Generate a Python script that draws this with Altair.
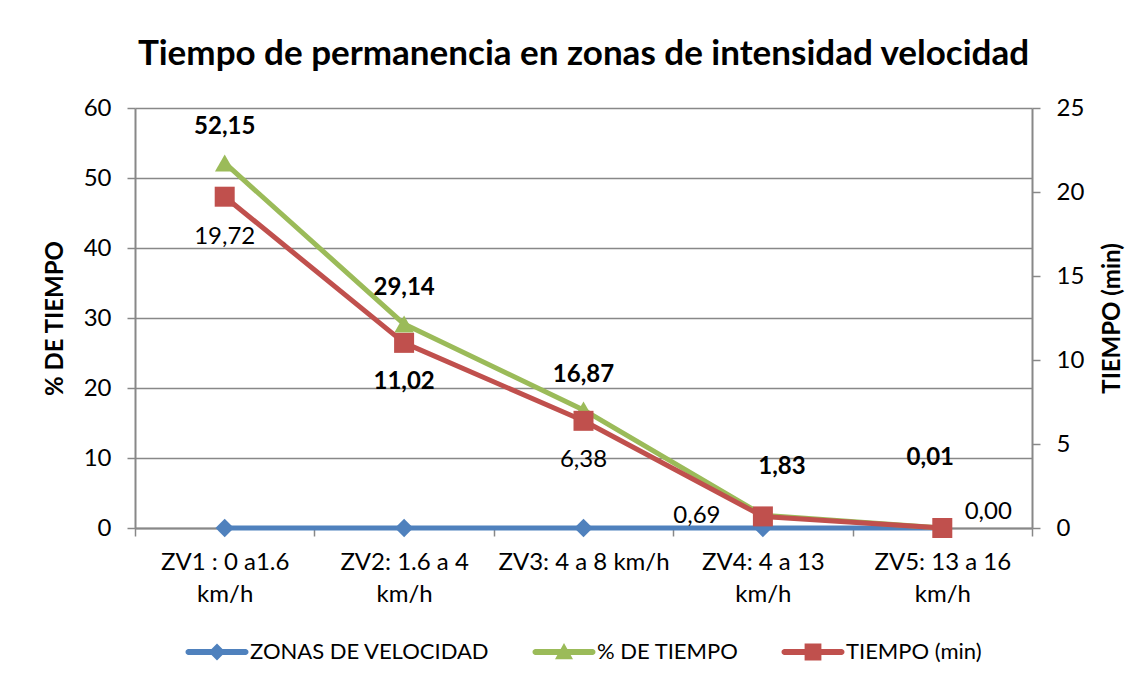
import altair as alt
import pandas as pd

# ---------------- data ----------------
categories = [
    "ZV1 : 0 a1.6\nkm/h",
    "ZV2: 1.6  a 4\nkm/h",
    "ZV3:  4 a 8 km/h",
    "ZV4: 4 a 13\nkm/h",
    "ZV5: 13 a 16\nkm/h",
]
series = ["ZONAS DE VELOCIDAD", "% DE TIEMPO", "TIEMPO (min)"]
zonas_velocidad = [0, 0, 0, 0, 0]
pct_tiempo = [52.15, 29.14, 16.87, 1.83, 0.01]
tiempo_min = [19.72, 11.02, 6.38, 0.69, 0.00]
left_ticks = [0, 10, 20, 30, 40, 50, 60]
right_ticks = [0, 5, 10, 15, 20, 25]
title_text = "Tiempo de permanencia en zonas de intensidad velocidad"

# ---------------- styles ----------------
colors = ["#4F81BD", "#9BBB59", "#C0504D"]
FONT = "Lato"
GRAY = "#888888"
pct_label_style = [(0, -36, True), (0, -36, True), (0, -35, True), (19, -48, True), (-12, -70, True)]
tmin_label_style = [(0, 40, False), (0, 39, True), (0, 39, False), (-66, 0, False), (46, -16, False)]
LINE_PATH = "M-0.95,-0.1H0.95A0.1,0.1 0 0 1 0.95,0.1H-0.95A0.1,0.1 0 0 1 -0.95,-0.1Z"
legend_paths = [
    LINE_PATH + " M0,-0.28L0.28,0L0,0.28L-0.28,0Z",
    LINE_PATH + " M0,-0.3L0.3,0.24L-0.3,0.24Z",
    LINE_PATH + " M-0.28,-0.28H0.28V0.28H-0.28Z",
]

rows = []
for s, vals in zip(series, [zonas_velocidad, pct_tiempo, tiempo_min]):
    for i, (c, v) in enumerate(zip(categories, vals)):
        rows.append({"cat": c, "serie": s, "v": v, "idx": i,
                     "lab": f"{v:.2f}".replace(".", ",")})
df = pd.DataFrame(rows)

base = alt.Chart(df)

x_enc = alt.X(
    "cat:N", sort=categories, title=None,
    scale=alt.Scale(type="band", paddingInner=0, paddingOuter=0),
    axis=alt.Axis(
        labelExpr="split(datum.label, '\\n')", labelAngle=0, tickBand="extent",
        tickSize=8, tickColor=GRAY, tickWidth=1.5, domainColor=GRAY, domainWidth=2,
        labelPadding=14, labelLineHeight=32, labelFontSize=24, labelFont=FONT,
        labelColor="black", grid=False,
    ),
)
left_scale = alt.Scale(domain=[0, 60], nice=False, zero=True)
left_axis = alt.Axis(
    values=left_ticks, title="% DE TIEMPO", orient="left", grid=True,
    gridColor=GRAY, gridWidth=1.5, tickSize=8, tickColor=GRAY, tickWidth=1.5,
    domainColor=GRAY, domainWidth=2, labelFontSize=24, labelFont=FONT,
    labelColor="black", labelPadding=16, titleFont=FONT, titleFontSize=24,
    titleFontWeight="bold", titleColor="black", titlePadding=16,
)
y_left = alt.Y("v:Q", scale=left_scale, axis=left_axis)
y_right = alt.Y(
    "v:Q", scale=alt.Scale(domain=[0, 25], nice=False, zero=True),
    axis=alt.Axis(
        values=right_ticks, title="TIEMPO (min)", orient="right", grid=False,
        tickSize=8, tickColor=GRAY, tickWidth=1.5, domainColor=GRAY, domainWidth=2,
        labelFontSize=24, labelFont=FONT, labelColor="black", labelPadding=16,
        titleFont=FONT, titleFontSize=24, titleFontWeight="bold", titleColor="black",
        titlePadding=17, titleAngle=270, titleBaseline="top",
    ),
)
color_scale = alt.Scale(domain=series, range=colors)


def line_layer(k, y_enc):
    return base.transform_filter(alt.datum.serie == series[k]).mark_line(
        strokeWidth=5, strokeJoin="round", color=colors[k]).encode(x=x_enc, y=y_enc)


def point_layer(k, shape, size, y_enc):
    return base.transform_filter(alt.datum.serie == series[k]).mark_point(
        filled=True, opacity=1, shape=shape, size=size, color=colors[k]).encode(x=x_enc, y=y_enc)


def label_layer(k, idx, dx, dy, bold, y_enc):
    return base.transform_filter((alt.datum.serie == series[k]) & (alt.datum.idx == idx)).mark_text(
        dx=dx, dy=dy, fontSize=24, font=FONT, fontWeight="bold" if bold else "normal",
        color="black", baseline="middle").encode(x=x_enc, y=y_enc, text="lab:N")


legend_kw = dict(title=None, orient="none", legendX=52, legendY=514, direction="horizontal",
                 symbolSize=3600, labelFontSize=22, labelFont=FONT, labelColor="black",
                 labelOffset=3, labelLimit=500, columnPadding=42, symbolStrokeWidth=0)
# legend proxy: one row per series, pushed below the axis range and clipped away
legend_layer = base.transform_filter(alt.datum.idx == 0).transform_calculate(
    hidden="-1000").mark_point(filled=True, opacity=1, clip=True).encode(
    x=x_enc,
    y=alt.Y("hidden:Q", scale=left_scale, axis=left_axis),
    color=alt.Color("serie:N", scale=color_scale, legend=alt.Legend(**legend_kw)),
    shape=alt.Shape("serie:N", scale=alt.Scale(domain=series, range=legend_paths),
                    legend=alt.Legend(**legend_kw)),
)

left = alt.layer(
    line_layer(0, y_left),
    point_layer(0, "diamond", 340, y_left),
    line_layer(1, y_left),
    point_layer(1, "triangle-up", 380, y_left),
    legend_layer,
    *[label_layer(1, i, dx, dy, b, y_left) for i, (dx, dy, b) in enumerate(pct_label_style)],
)
right = alt.layer(
    line_layer(2, y_right),
    point_layer(2, "square", 400, y_right),
    *[label_layer(2, i, dx, dy, b, y_right) for i, (dx, dy, b) in enumerate(tmin_label_style)],
)

chart = alt.layer(left, right).resolve_scale(y="independent").properties(
    width=897, height=420,
    padding={"left": 127, "top": 100, "right": 100, "bottom": 150},
    autosize=alt.AutoSizeParams(type="none"),
    title=alt.TitleParams(title_text, font=FONT, fontSize=35, fontWeight="bold",
                          color="black", anchor="middle", offset=24),
).configure_view(stroke=None)

chart.save("out.html", embed_options={"renderer": "svg", "actions": False})
